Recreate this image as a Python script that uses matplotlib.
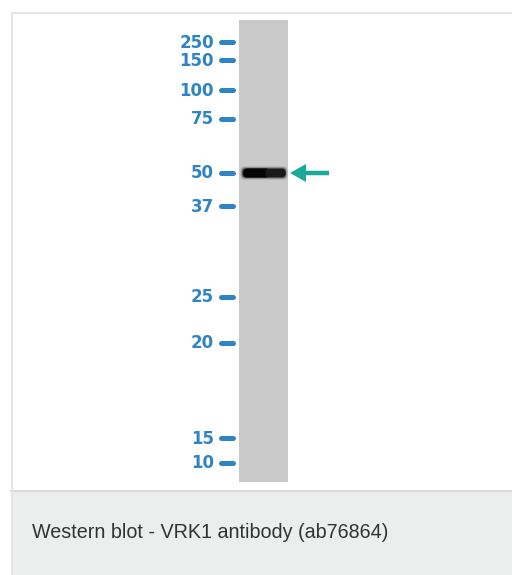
import numpy as np
import matplotlib.pyplot as plt
from matplotlib.patches import Rectangle, FancyBboxPatch, FancyArrow

# marker ladder (kDa) and where each one ran on the membrane (pixels from top)
marker_kda = ['250', '150', '100', '75', '50', '37', '25', '20', '15', '10']
marker_pos = [42, 60, 90, 119, 173, 206, 297, 343, 438, 463]

band_pos = 173
caption = 'Western blot - VRK1 antibody (ab76864)'

W, H = 512, 575
fig = plt.figure(figsize=(W / 100, H / 100), dpi=100)
ax = fig.add_axes([0, 0, 1, 1])
ax.set_xlim(0, W)
ax.set_ylim(H, 0)
ax.axis('off')

# frame and caption box
ax.add_patch(Rectangle((11.5, 12.5), 520, 478, facecolor='white', edgecolor='#e0e0e0', lw=1.2))
ax.add_patch(Rectangle((11, 491), 520, 90, facecolor='#eceeed', edgecolor='none'))
ax.plot([11, W], [491, 491], color='#dcdcdc', lw=1.5)
ax.plot([11.5, 11.5], [491, H], color='#e3e3e3', lw=1.2)
ax.text(32, 533, caption, fontsize=14.2, color='#333333', family='Liberation Sans', va='center', ha='left')

# lane
ax.add_patch(Rectangle((239, 20), 49, 462, facecolor='#c9c9c9', edgecolor='none'))

# band: soft halo plus dark core, darker on the left
for pad, a in [(2.4, 0.2), (1.3, 0.4), (0.5, 0.65)]:
    ax.add_patch(FancyBboxPatch((243, band_pos - 4), 42, 8, boxstyle='round,pad=%g,rounding_size=4' % pad,
                                facecolor='#0e0e0e', edgecolor='none', alpha=a))
ax.add_patch(FancyBboxPatch((244, band_pos - 4), 25, 8, boxstyle='round,pad=0.5,rounding_size=4',
                            facecolor='#050505', edgecolor='none'))
ax.add_patch(FancyBboxPatch((266, band_pos - 3.5), 19, 7, boxstyle='round,pad=0.5,rounding_size=3.5',
                            facecolor='#1a1a1a', edgecolor='none'))

# markers
for lab, y in zip(marker_kda, marker_pos):
    ax.text(214, y + 0.5, lab, fontsize=12, fontweight='bold', color='#2f84c4', ha='right', va='center',
            family='DejaVu Sans')
    ax.plot([220.5, 232.5], [y, y], color='#2f84c4', lw=3.6, solid_capstyle='round')

# arrow pointing at band
ax.add_patch(FancyArrow(329, band_pos, -39, 0, width=4.5, head_width=18, head_length=16,
                        length_includes_head=True, color='#19a997', lw=0))

fig.savefig('out.png', dpi=100)
